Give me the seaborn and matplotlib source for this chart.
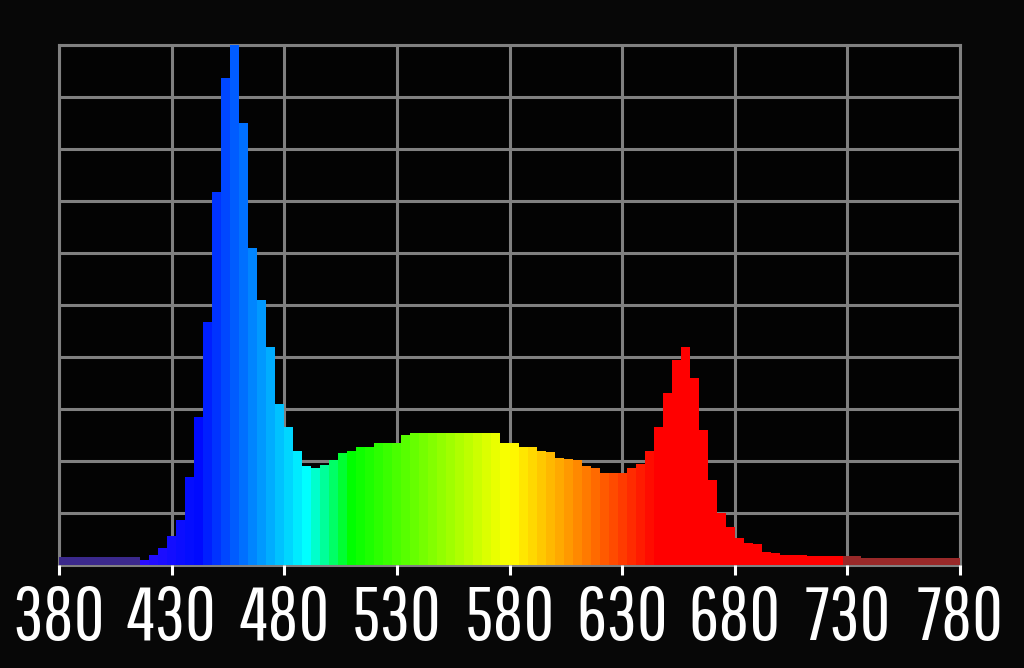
import numpy as np
import pandas as pd
import matplotlib
matplotlib.use("Agg")
import matplotlib.pyplot as plt
import seaborn as sns

# wavelength bin centres (nm), 4 nm bins from 380 to 780
wavelength = list(range(382, 780, 4))

# relative intensity (% of peak) per bin
intensity = [
    1.5, 1.5, 1.5, 1.5, 1.5, 1.5, 1.5, 1.5, 1.5, 1.0,      # 380-420
    2.0, 3.3, 5.5, 8.6, 17.0, 28.5, 46.7, 71.7, 93.6, 100.0,  # 420-460
    85.0, 61.0, 51.0, 42.0, 31.0, 26.5, 22.0, 19.0, 18.6, 19.2,  # 460-500
    20.2, 21.5, 22.0, 22.7, 22.7, 23.5, 23.5, 23.5, 25.0, 25.4,  # 500-540
    25.4, 25.4, 25.4, 25.4, 25.4, 25.4, 25.4, 25.4, 25.4, 23.5,  # 540-580
    23.5, 22.7, 22.7, 22.0, 21.7, 20.5, 20.3, 20.2, 19.0, 18.6,  # 580-620
    17.7, 17.7, 17.7, 18.6, 19.5, 22.0, 26.5, 33.0, 39.4, 42.0,  # 620-660
    36.0, 26.0, 16.3, 10.0, 7.3, 5.2, 4.2, 4.0, 2.5, 2.3,      # 660-700
    1.9, 1.9, 1.9, 1.7, 1.7, 1.7, 1.7, 1.7, 1.7, 1.3,          # 700-740
    1.3, 1.3, 1.3, 1.3, 1.3, 1.3, 1.3, 1.3, 1.3, 1.3,          # 740-780
]

x_ticks = [380, 430, 480, 530, 580, 630, 680, 730, 780]
x_tick_labels = ["380", "430", "480", "530", "580", "630", "680", "730", "780"]


def wl_rgb(w):
    if w < 440:
        r, g, b = -(w - 440) / 60.0, 0.0, 1.0
    elif w < 490:
        r, g, b = 0.0, (w - 440) / 50.0, 1.0
    elif w < 510:
        r, g, b = 0.0, 1.0, -(w - 510) / 20.0
    elif w < 580:
        r, g, b = (w - 510) / 70.0, 1.0, 0.0
    elif w < 645:
        r, g, b = 1.0, -(w - 645) / 65.0, 0.0
    else:
        r, g, b = 1.0, 0.0, 0.0
    r, g, b = [min(max(v, 0.0), 1.0) for v in (r, g, b)]
    if w < 416:
        return (0.23, 0.16, 0.55)
    if w > 728:
        return (0.60, 0.16, 0.16)
    if w < 440:
        r = r * 0.45
        g = 0.05
    return (r, g, b)


palette = {w: wl_rgb(w) for w in wavelength}

df = pd.DataFrame({"wavelength": wavelength, "intensity": intensity})

sns.set_theme(style="dark")
bg = "#070707"
fig = plt.figure(figsize=(10.24, 6.68), dpi=100, facecolor=bg)
ax = fig.add_axes([59 / 1024, 1 - 565 / 668, 901 / 1024, 520 / 668])
ax.set_facecolor("#030303")

sns.barplot(data=df, x="wavelength", y="intensity", hue="wavelength",
            palette=palette, native_scale=True, width=1.0, saturation=1,
            legend=False, linewidth=0, ax=ax)

ax.set_xlim(380, 780)
ax.set_ylim(0, 100)
ax.set_axisbelow(True)
ax.set_xticks(x_ticks)
ax.set_xticklabels(x_tick_labels)
ax.set_yticks(np.arange(0, 101, 10))
ax.set_yticklabels([])
ax.grid(True, color="#808080", linewidth=2.2)
for s in ax.spines.values():
    s.set_color("#808080")
    s.set_linewidth(2.2)
    s.set_zorder(0)
ax.set_xlabel("")
ax.set_ylabel("")
ax.tick_params(axis="x", colors="white", length=7, width=2.2, pad=7,
               labelsize=54, bottom=True)
ax.tick_params(axis="y", left=False)
for lab in ax.get_xticklabels():
    lab.set_family(["Pathway Gothic One", "DejaVu Sans"])
    lab.set_color("white")

fig.savefig("out.png", dpi=100, facecolor=bg)
